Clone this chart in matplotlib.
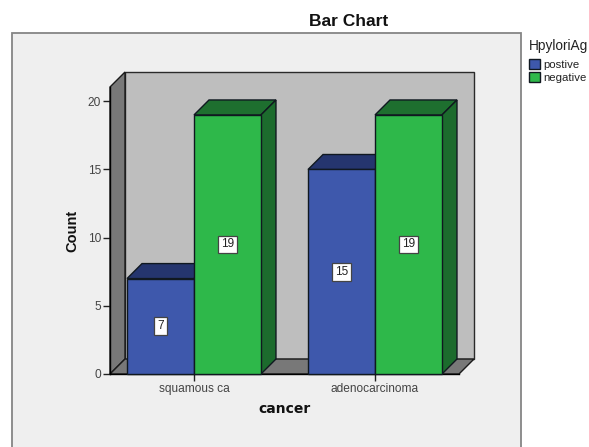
import matplotlib
matplotlib.use("Agg")
import matplotlib.pyplot as plt
from matplotlib.patches import Patch, Polygon, Rectangle

plt.rcParams["font.family"] = ["Liberation Sans", "DejaVu Sans"]

categories = ["squamous ca", "adenocarcinoma"]
group_names = ["postive", "negative"]
postive = [7, 15]
negative = [19, 19]
y_ticks = [0, 5, 10, 15, 20]

FRONT = {"postive": "#3E58AC", "negative": "#2EB84A"}
TOP = {"postive": "#25356E", "negative": "#1E6F2F"}
SIDE = {"postive": "#25356E", "negative": "#1C6B2D"}
EDGE = "#101820"

W, H = 589, 447
BAR_W = 0.37
# 3d offset of the box, in data units
DX = 15 / 181
DY = 15 / 13.65
X0, X1 = -0.464, 1.464
Y1 = 21.05


def box(ax, left, right, val, name, z):
    ax.add_patch(Polygon([(left, val), (left + DX, val + DY), (right + DX, val + DY), (right, val)],
                         fc=TOP[name], ec=EDGE, lw=1, zorder=z, clip_on=False))
    ax.add_patch(Polygon([(right, 0), (right + DX, DY), (right + DX, val + DY), (right, val)],
                         fc=SIDE[name], ec=EDGE, lw=1, zorder=z, clip_on=False))
    ax.add_patch(Rectangle((left, 0), right - left, val,
                           fc=FRONT[name], ec=EDGE, lw=1, zorder=z + 0.1, clip_on=False))
    ax.text((left + right) / 2, val / 2, str(val), ha="center", va="center", fontsize=8.5,
            color="#222222", zorder=z + 0.2,
            bbox=dict(boxstyle="square,pad=0.25", fc="white", ec="#444444", lw=0.9))


fig = plt.figure(figsize=(W / 100, H / 100), dpi=100, facecolor="white")
fig.add_artist(Rectangle((12 / W, -0.05), (521 - 12) / W, (H - 33) / H + 0.05,
                         transform=fig.transFigure, fc="#EFEFEF", ec="#858585", lw=1.3, zorder=-1))

ax = fig.add_axes([110 / W, (H - 374) / H, (459 - 110) / W, (374 - 87) / H])
ax.patch.set_visible(False)
ax.set_xlim(X0, X1)
ax.set_ylim(0, Y1)

# walls and floor
ax.add_patch(Rectangle((X0 + DX, DY), X1 - X0, Y1, fc="#BEBEBE", ec="#2A2A2A", lw=1, zorder=1, clip_on=False))
ax.add_patch(Polygon([(X0, 0), (X0, Y1), (X0 + DX, Y1 + DY), (X0 + DX, DY)],
                     fc="#787878", ec="#1A1A1A", lw=1, zorder=2, clip_on=False))
ax.add_patch(Polygon([(X0, 0), (X1, 0), (X1 + DX, DY), (X0 + DX, DY)],
                     fc="#787878", ec="#1A1A1A", lw=1, zorder=2, clip_on=False))

for i in range(len(categories)):
    box(ax, i - BAR_W, i, postive[i], "postive", 3 + i * 2)
    box(ax, i, i + BAR_W, negative[i], "negative", 4 + i * 2)

for s in ["top", "right"]:
    ax.spines[s].set_visible(False)
for s in ["left", "bottom"]:
    ax.spines[s].set_linewidth(1)
    ax.spines[s].set_zorder(2.5)
ax.set_xticks(range(len(categories)))
ax.set_xticklabels(categories)
ax.set_yticks(y_ticks)
ax.tick_params(axis="both", length=5, width=1, color="#222222", labelcolor="#444444", labelsize=8.6, pad=1.5)
ax.set_xlabel("cancer", fontsize=10, fontweight="bold", family="DejaVu Sans", labelpad=5, color="#111111")
ax.set_ylabel("Count", fontsize=10.5, fontweight="bold", labelpad=6, color="#111111")

fig.text(349 / W, 1 - 21 / H, "Bar Chart", ha="center", va="center", fontsize=12.5, fontweight="bold", color="#111111")

# legend title sits further from the keys than Legend allows, so it is separate text
fig.text(529 / W, 1 - 46 / H, "HpyloriAg", ha="left", va="center", fontsize=9.8, color="#222222")
handles = [Patch(fc=FRONT[n], ec=EDGE, lw=1, label=n) for n in group_names]
fig.legend(handles=handles, loc="upper left", bbox_to_anchor=(526 / W, 1 - 56 / H),
           frameon=False, fontsize=8.2, handlelength=0.95, labelcolor="#222222",
           handleheight=0.9, handletextpad=0.27, labelspacing=0.2, borderpad=0.3, borderaxespad=0)

fig.savefig("out.png", dpi=100)
plt.close(fig)
